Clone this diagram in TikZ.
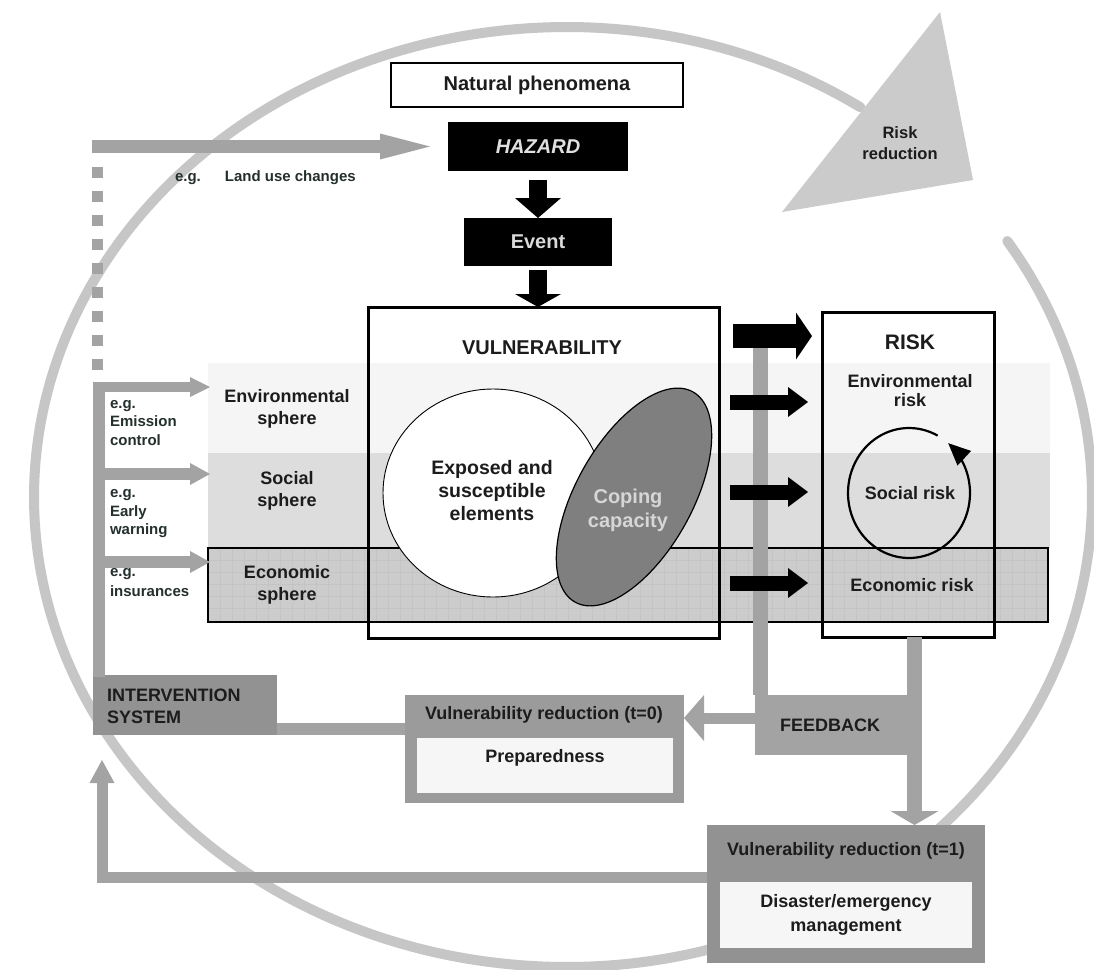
\documentclass[tikz,border=0pt]{standalone}
\usepackage{fontspec}
\setmainfont{Liberation Sans}
\usetikzlibrary{arrows.meta,shapes.geometric,calc}

\definecolor{ringgray}{HTML}{C6C6C6}
\definecolor{wedgegray}{HTML}{CBCBCB}
\definecolor{bargray}{HTML}{A3A3A3}
\definecolor{boxgray}{HTML}{929292}
\definecolor{envband}{HTML}{F5F5F5}
\definecolor{socband}{HTML}{DDDDDD}
\definecolor{ecoband}{HTML}{CCCCCC}
\definecolor{ecoline}{HTML}{C4C4C4}
\definecolor{copegray}{HTML}{7F7F7F}
\definecolor{copetext}{HTML}{D6D6D6}
\definecolor{inkdark}{HTML}{1C1C1C}
\definecolor{labeldark}{HTML}{24302E}
\definecolor{paleinset}{HTML}{F6F6F6}

\tikzset{
  box/.style={rectangle, inner sep=0pt, outer sep=0pt},
  txt/.style={inner sep=0pt, outer sep=0pt, align=center, text=inkdark},
  f21/.style={font=\fontsize{21}{24}\selectfont\bfseries},
  f20/.style={font=\fontsize{20}{23}\selectfont\bfseries},
  f18/.style={font=\fontsize{18}{21.5}\selectfont\bfseries},
  f17/.style={font=\fontsize{16.5}{21}\selectfont\bfseries},
  f15/.style={font=\fontsize{15}{18.5}\selectfont\bfseries},
  blockarrow/.style={draw=black, line width=#1},
  grayarrow/.style={draw=bargray, line width=#1},
}

\begin{document}
\begin{tikzpicture}[x=1pt,y=-1pt]
\useasboundingbox (0,0) rectangle (1094,969);
\fill[white] (0,0) rectangle (1094,969);

% the risk-reduction cycle: an oval, a little wider on its left half
\draw[ringgray, line width=10pt, line cap=round]
  plot[domain=33:-304, samples=200, smooth]
  ({567 + (cos(\x) > 0 ? 525 : 533)*cos(\x)}, {497 - 470*sin(\x)});
\fill[wedgegray] (940,12) -- (973,180) -- (782,212) -- cycle;
\node[txt, f17] (riskred) at (900,143) {Risk\\reduction};

% spheres
\node[box, fill=envband, minimum width=842pt, minimum height=90pt] (envband) at (629,408) {};
\node[box, fill=socband, minimum width=842pt, minimum height=95pt] (socband) at (629,500.5) {};
\node[box, fill=ecoband, minimum width=840pt, minimum height=74pt] (ecoband) at (628,585) {};
\foreach \gx in {220,232,...,1040} \draw[ecoline, line width=0.5pt] (\gx,549) -- (\gx,621);
\foreach \gy in {560,572,...,616} \draw[ecoline, line width=0.5pt] (209,\gy) -- (1047,\gy);
\draw[black, line width=1.2pt] (ecoband.north west) rectangle (ecoband.south east);

\node[txt, f18] (envsph) at (287,409) {Environmental\\sphere};
\node[txt, f18] (socsph) at (287,491) {Social\\sphere};
\node[txt, f18] (ecosph) at (287,585) {Economic\\sphere};

% vulnerability
\node[ellipse, draw=black, line width=0.9pt, fill=white, minimum width=220pt, minimum height=208pt, inner sep=0pt] (expo) at (493,493) {};
\node[txt, font=\fontsize{19.5}{23}\selectfont\bfseries] (expotext) at (492,491) {Exposed and\\susceptible\\elements};
\node[ellipse, draw=black, line width=1.2pt, fill=copegray, minimum width=241pt, minimum height=116pt, inner sep=0pt, rotate=60.7] (cope) at (634,497) {};
\node[txt, text=copetext, font=\fontsize{20}{24}\selectfont\bfseries] (copetxt) at (628,510) {Coping\\capacity};

\node[box, draw=black, line width=3pt, minimum width=351pt, minimum height=331pt] (vul) at (543.5,472.5) {};
\node[txt, f20] (vultitle) at (542,348) {VULNERABILITY};

% risk
\node[box, draw=black, line width=3pt, minimum width=172pt, minimum height=325pt] (risk) at (908,474.5) {};
\node[txt, f21] (risktitle) at (910,342) {RISK};
\node[txt, font=\fontsize{18}{19}\selectfont\bfseries] (envrisk) at (910,391) {Environmental\\risk};
\node[txt, f18] (socrisk) at (910,493) {Social risk};
\node[txt, f18] (ecorisk) at (912,585) {Economic risk};
\draw[black, line width=2.2pt, -{Triangle[length=22pt,width=20pt,line width=0pt]}]
  plot[domain=62:410, samples=90, smooth] ({909+61*cos(\x)}, {493-65*sin(\x)});

% phenomena chain
\node[box, draw=black, line width=2.5pt, fill=white, minimum width=292pt, minimum height=44pt, text=inkdark, f20] (nat) at (537,85) {Natural phenomena};
\node[box, fill=black, minimum width=180pt, minimum height=49pt, text=white!88!black, font=\fontsize{20}{23}\selectfont\bfseries\itshape] (haz) at (538,146.5) {HAZARD};
\node[box, fill=black, minimum width=148pt, minimum height=48pt, text=white!85!black, f20] (evt) at (538,242) {Event};
\draw[blockarrow=18pt, -{Triangle[length=20pt,width=46pt,line width=0pt]}] ($(haz.south)+(0,9)$) -- (evt.north);
\draw[blockarrow=18pt, -{Triangle[length=13pt,width=46pt,line width=0pt]}] ($(evt.south)+(0,4)$) -- (evt.south |- vul.north);

% reduction boxes
\node[box, fill=bargray, minimum width=162pt, minimum height=60pt] (fb) at (836,725) {};
\node[txt, f18] (fbtext) at (830,725) {FEEDBACK};

\node[box, fill=bargray!95!black, minimum width=279pt, minimum height=108pt] (t0) at (544.5,749) {};
\node[txt, f18] (t0head) at (544,715) {Vulnerability reduction (t=0)};
\node[box, fill=paleinset, minimum width=256pt, minimum height=55pt] (prep) at (545,765.5) {};
\node[txt, f18] (preptext) at (545,758) {Preparedness};

\node[box, fill=boxgray, minimum width=278pt, minimum height=138pt] (t1) at (846,894) {};
\node[txt, f18] (t1head) at (846,851) {Vulnerability reduction (t=1)};
\node[box, fill=paleinset, minimum width=252pt, minimum height=66pt] (mgmt) at (846,915) {};
\node[txt, font=\fontsize{18}{24}\selectfont\bfseries] (mgmttext) at (846,915) {Disaster/emergency\\management};

\node[box, fill=boxgray, minimum width=184pt, minimum height=60pt] (interv) at (185,705) {};
\node[txt, align=left, anchor=west, font=\fontsize{18}{22}\selectfont\bfseries] (intervtext) at (107,706) {INTERVENTION\\SYSTEM};

% feedback paths
\coordinate (fbsrc) at (760.5,330);
\draw[grayarrow=15pt] (fbsrc) -- (fbsrc |- fb.north);
\coordinate (riskout) at (914.5,637);
\draw[grayarrow=15pt, -{Triangle[length=14pt,width=48pt,line width=0pt]}] (riskout) -- (riskout |- t1.north);
\draw[grayarrow=11pt, -{Triangle[length=20pt,width=46pt,line width=0pt]}] ($(fb.west)+(0,-7)$) -- ($(t0.east)+(0,-31)$);
\draw[grayarrow=12pt] ($(t0.west)+(0,-20)$) -- ($(interv.east)+(0,24)$);
\coordinate (intervin) at ($(interv.south west)+(9,25)$);
\draw[grayarrow=11pt, -{Triangle[length=23pt,width=25pt,line width=0pt]}] ($(t1.west)+(0,-17)$) -| (intervin);

% intervention spine and measures
\coordinate (spinetop) at (99,382);
\draw[grayarrow=12pt] (spinetop) -- ($(interv.north west)+(6,2)$);
\draw[bargray, line width=11pt, dash pattern=on 11pt off 13pt] (97.5,167) -- (97.5,372);
\coordinate (landsrc) at (92,146.5);
\draw[grayarrow=13pt, -{Triangle[length=50pt,width=26pt,line width=0pt]}] (landsrc) -- ($(haz.west)+(-18,0)$);
\draw[grayarrow=10pt, -{Triangle[length=20pt,width=20pt,line width=0pt]}] (93,387) -- ($(envband.west)+(2,-21)$);
\draw[grayarrow=12pt, -{Triangle[length=20pt,width=22pt,line width=0pt]}] (93,474) -- ($(socband.west)+(2,-26.5)$);
\draw[grayarrow=12pt, -{Triangle[length=20pt,width=22pt,line width=0pt]}] (93,562) -- ($(ecoband.west)+(2,-23)$);

\node[txt, f15, anchor=west, text=labeldark] (landuse) at (175,178) {e.g.\hspace{24pt}Land use changes};
\node[txt, f15, align=left, anchor=west, text=labeldark] (emis) at (110,423) {e.g.\\Emission\\control};
\node[txt, f15, align=left, anchor=west, text=labeldark] (early) at (110,514) {e.g.\\Early\\warning};
\node[txt, align=left, anchor=west, text=labeldark, font=\fontsize{15}{20}\selectfont\bfseries] (insur) at (110,583) {e.g.\\insurances};

% impact arrows
\draw[blockarrow=24pt, -{Triangle[length=16pt,width=47pt,line width=0pt]}] ($(vul.north east)+(14,29)$) -- ($(risk.north west)+(-10,24)$);
\draw[blockarrow=15pt, -{Triangle[length=20pt,width=30pt,line width=0pt]}] ($(vul.east)+(11,-70.5)$) -- ($(risk.west)+(-14,-72.5)$);
\draw[blockarrow=15pt, -{Triangle[length=20pt,width=30pt,line width=0pt]}] ($(vul.east)+(11,19.5)$) -- ($(risk.west)+(-14,17.5)$);
\draw[blockarrow=15pt, -{Triangle[length=20pt,width=30pt,line width=0pt]}] ($(vul.east)+(11,110.5)$) -- ($(risk.west)+(-14,108.5)$);
\end{tikzpicture}
\end{document}
